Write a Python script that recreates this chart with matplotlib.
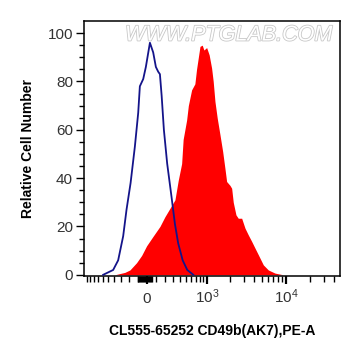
import matplotlib
matplotlib.use("Agg")
import matplotlib.pyplot as plt
import matplotlib.patheffects as pe

plt.rcParams['font.family'] = ['Liberation Sans', 'DejaVu Sans']
plt.rcParams['mathtext.fontset'] = 'custom'
plt.rcParams['mathtext.rm'] = 'Liberation Sans'

# Isotype control (blue outline)
blue_x = [-595, -416, -340, -271, -228, -179, -130, -93, -75, -39, -11, 32, 67, 96,
          122, 141, 161, 187, 227, 284, 330, 378, 449, 530, 650]
blue_y = [0, 2, 6, 16, 27, 38, 53, 67, 78, 81, 86, 96, 92, 86,
          84, 83, 74, 60, 46, 32, 21, 13, 6, 2, 0]

# CD49b stained sample (red filled)
red_x = [-390, -249, -187, -111, -56, -3, 67, 141, 199, 262, 330, 378, 432, 457,
         518, 550, 615, 685, 723, 807, 866, 912, 993, 1072, 1155, 1212, 1277,
         1367, 1482, 1606, 1717, 1804, 1989, 2091, 2190, 2370, 2532, 2797, 3080,
         3389, 3739, 4118, 4526, 5229, 6039, 7323, 9296]
red_y = [0, 1, 2, 5, 8, 12, 16, 20, 24, 27.5, 31, 39, 46, 56,
         64, 70, 76.5, 79, 85, 94.5, 95, 93, 94, 91, 85.5, 80, 71.7,
         64.8, 58, 51, 44, 38.6, 37, 35.8, 30, 24.8, 23.4, 23.4, 19.3,
         16.5, 13.8, 11, 8.3, 4.1, 2, 0.7, 0]

x_major = [0, 1000, 10000]
x_major_labels = [r'$\mathdefault{0}$', r'$\mathdefault{10^{3}}$', r'$\mathdefault{10^{4}}$']
x_minor = ([-1000, -900, -800, -700, -600, -500, -400, -300, -200]
           + [-100, -90, -80, -70, -60, -50, -40, -30, -20, -10, 10, 20, 30, 40, 50]
           + [100, 200, 300, 400, 500, 600, 700, 800, 900]
           + [2000, 3000, 4000, 5000, 6000, 7000, 8000, 9000]
           + [20000, 30000, 40000])
y_major = [0, 20, 40, 60, 80, 100]
y_minor = [5, 10, 15, 25, 30, 35, 45, 50, 55, 65, 70, 75, 85, 90, 95]

fig = plt.figure(figsize=(3.61, 3.56), dpi=100)
ax = fig.add_axes([0.2327, 0.2247, 0.7091, 0.7163])

ax.set_xscale('asinh', linear_width=368)
ax.fill_between(red_x, red_y, color='#ff0000', lw=0, zorder=2)
ax.plot(blue_x, blue_y, color='#14148a', lw=1.3, zorder=3)

ax.set_xlim(-1093, 47500)
ax.set_ylim(-0.5, 105)

ax.set_xticks(x_major)
ax.set_xticklabels(x_major_labels)
ax.set_xticks(x_minor, minor=True)
ax.set_yticks(y_major)
ax.set_yticks(y_minor, minor=True)

ax.tick_params(axis='y', which='major', length=6, width=1, labelsize=11, pad=2, colors='black', labelcolor='#333333')
ax.tick_params(axis='y', which='minor', length=3.5, width=1)
ax.tick_params(axis='x', which='major', length=5.5, width=1.6, labelsize=11, pad=14, labelcolor='#333333')
ax.tick_params(axis='x', which='minor', length=4, width=1)
for lab in ax.get_xticklabels():
    lab.set_va('baseline')

for s in ax.spines.values():
    s.set_linewidth(1.1)
    s.set_color('black')

ax.set_ylabel('Relative Cell Number', fontsize=10, fontweight='bold', labelpad=9)
ax.set_xlabel('CL555-65252 CD49b(AK7),PE-A', fontsize=10, fontweight='bold', labelpad=13)

ax.text(0.565, 0.945, 'WWW.PTGLAB.COM', transform=ax.transAxes, ha='center', va='center',
        fontsize=15.5, style='italic', color='white', zorder=4,
        path_effects=[pe.withStroke(linewidth=1.2, foreground='#c8c8c8')])

fig.savefig('out.png', dpi=100)
